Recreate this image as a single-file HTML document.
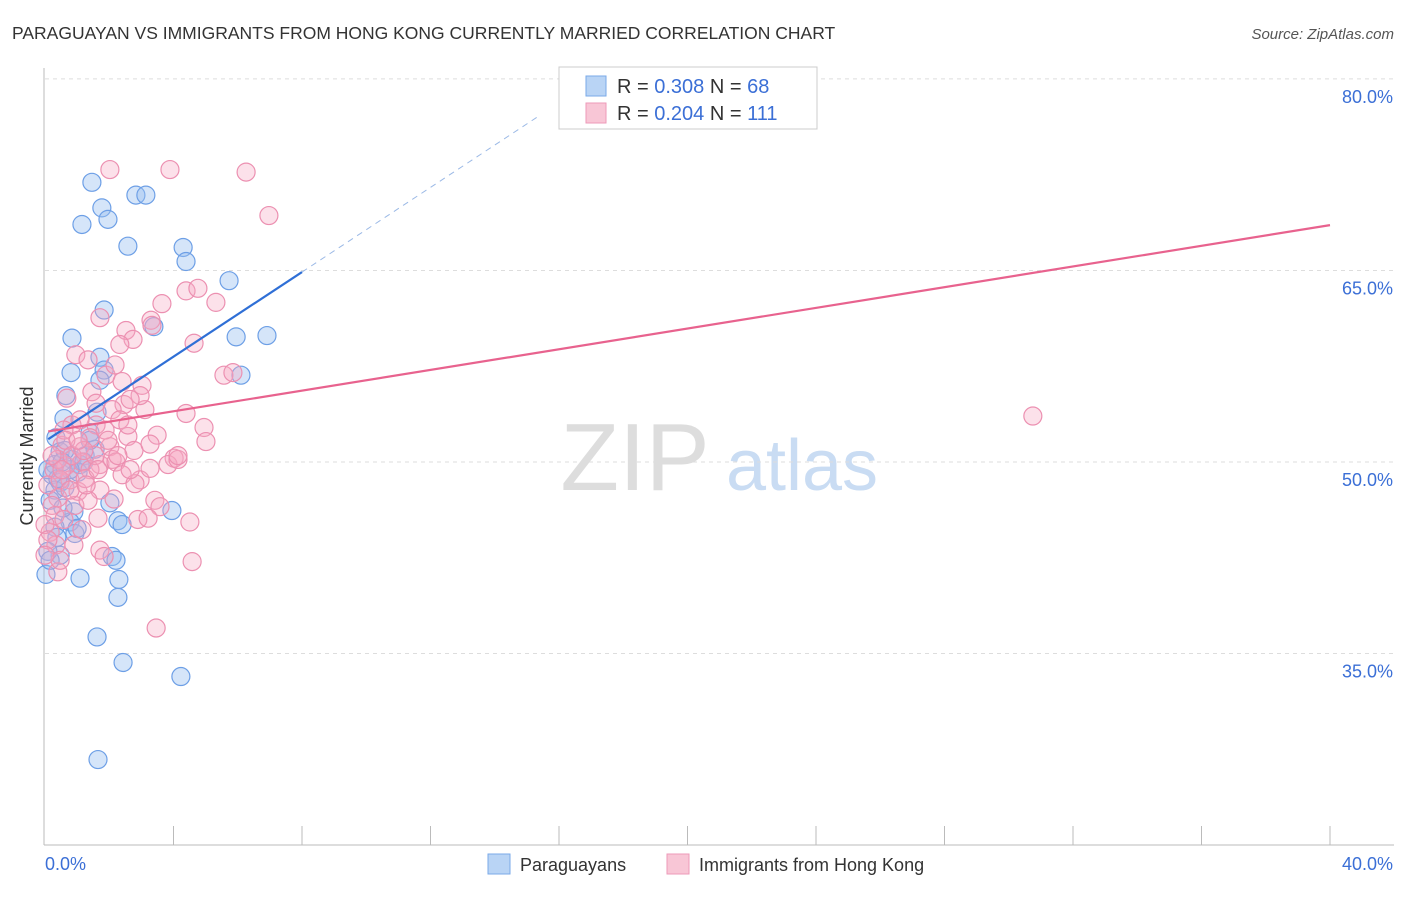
<!DOCTYPE html>
<html><head><meta charset="utf-8"><style>
body{margin:0;background:#fff;font-family:"Liberation Sans",sans-serif}
svg text{font-family:"Liberation Sans",sans-serif}
</style></head><body>
<svg id="c" width="1406" height="892" viewBox="0 0 1406 892">
<text x="12" y="39" font-size="17.5" fill="#333">PARAGUAYAN VS IMMIGRANTS FROM HONG KONG CURRENTLY MARRIED CORRELATION CHART</text>
<text x="1394" y="39" font-size="15" fill="#555" text-anchor="end" font-style="italic">Source: ZipAtlas.com</text>
<text x="33" y="456" font-size="18" fill="#333" text-anchor="middle" transform="rotate(-90 33 456)">Currently Married</text>
<g><text x="635" y="490" font-size="96" fill="#ddd" text-anchor="middle" font-family="Liberation Serif,serif">ZIP</text><text x="802" y="490" font-size="72" fill="#c9dcf3" text-anchor="middle">atlas</text></g>
<g id="grid"></g><g id="axes"></g><g id="pts"></g><g id="lines"></g>
<g>
<rect x="559" y="67" width="258" height="62" fill="#fff" stroke="#ccc"/>
<rect x="586" y="76" width="20" height="20" fill="#b9d4f5" stroke="#7aaae8"/>
<rect x="586" y="103" width="20" height="20" fill="#f8c6d6" stroke="#ee9ab8"/>
<text x="617" y="93" font-size="20" fill="#333">R = <tspan fill="#3b6fd6">0.308</tspan>   N = <tspan fill="#3b6fd6">68</tspan></text>
<text x="617" y="120" font-size="20" fill="#333">R = <tspan fill="#3b6fd6">0.204</tspan>   N = <tspan fill="#3b6fd6">111</tspan></text>
</g>
<g>
<rect x="488" y="854" width="22" height="20" fill="#b9d4f5" stroke="#7aaae8"/>
<text x="520" y="871" font-size="18" fill="#333">Paraguayans</text>
<rect x="667" y="854" width="22" height="20" fill="#f8c6d6" stroke="#ee9ab8"/>
<text x="699" y="871" font-size="18" fill="#333">Immigrants from Hong Kong</text>
</g>
<text x="45" y="870" font-size="18" fill="#3b6fd6">0.0%</text>
<text x="1393" y="870" font-size="18" fill="#3b6fd6" text-anchor="end">40.0%</text>
</svg>
<script>
const yTicks=[80,65,50,35];
const yTickLabels=["80.0%","65.0%","50.0%","35.0%"];
const blueX=[1.46,2.83,3.14,1.77,1.96,1.15,2.58,4.30,4.39,5.73,1.84,0.84,3.39,5.95,6.91,1.71,0.81,1.84,6.10,0.65,1.62,0.59,0.34,1.40,1.25,0.47,0.84,0.31,1.09,0.22,0.47,0.31,0.62,1.03,2.02,0.90,3.95,0.78,2.27,2.40,0.31,0.93,0.37,0.47,0.09,2.09,2.21,1.09,2.30,2.27,0.03,1.62,2.43,4.23,1.65,0.16,1.21,1.56,0.78,0.56,0.62,1.40,0.53,0.16,1.00,0.40,0.09,1.71];
const blueY=[71.9,70.9,70.9,69.9,69.0,68.6,66.9,66.8,65.7,64.2,61.9,59.7,60.6,59.8,59.9,58.2,57.0,57.2,56.8,55.2,53.9,53.4,51.9,52.3,50.5,50.8,50.2,49.8,49.8,49.0,48.4,47.8,48.0,49.2,46.8,46.1,46.2,45.3,45.4,45.1,44.9,44.4,44.1,42.7,43.0,42.6,42.3,40.9,40.8,39.4,41.2,36.3,34.3,33.2,26.7,47.0,50.0,51.0,49.4,46.4,50.9,51.7,50.0,42.3,44.8,48.7,49.4,56.4];
const pinkX=[2.02,3.89,6.26,6.97,4.39,4.76,5.32,3.64,1.71,3.30,2.52,2.74,3.33,4.64,0.96,1.34,2.33,1.90,2.40,3.02,1.46,0.68,2.46,2.09,4.39,0.84,1.59,2.33,3.11,4.95,1.40,2.58,5.01,3.49,0.53,1.09,2.02,2.77,3.27,4.02,3.83,4.14,1.15,1.71,2.09,2.21,0.65,0.28,0.40,0.09,2.40,2.96,2.80,1.71,1.03,0.40,3.42,3.58,1.65,2.89,3.21,4.51,0.16,1.15,0.34,0.90,1.71,1.84,4.58,0.40,3.46,30.75,5.57,5.85,0.78,1.40,1.87,0.47,0.22,0.59,1.09,1.56,2.65,0.93,1.34,0.31,0.00,0.47,0.09,0.65,0.78,1.25,2.96,2.18,2.65,4.14,2.15,3.27,0.22,0.53,0.84,1.21,1.65,1.96,2.27,2.58,1.59,1.28,0.59,1.03,0.00];
const pinkY=[72.9,72.9,72.7,69.3,63.4,63.6,62.5,62.4,61.3,61.1,60.3,59.6,60.7,59.3,58.4,58.0,59.2,56.8,56.3,56.0,55.5,55.0,54.5,54.1,53.8,52.9,52.9,53.3,54.1,52.7,51.9,52.0,51.6,52.1,51.3,51.2,51.2,50.9,51.4,50.3,49.8,50.2,50.0,49.8,50.2,50.0,49.7,49.4,50.2,48.2,49.0,48.6,48.3,47.8,47.7,47.2,47.0,46.5,45.6,45.5,45.6,45.3,44.5,44.7,43.5,43.5,43.1,42.6,42.2,41.4,37.0,53.6,56.8,57.0,48.6,49.4,52.5,48.6,46.6,52.5,53.3,50.5,49.4,46.6,47.0,45.8,45.1,42.3,43.9,51.7,47.8,48.7,55.2,57.6,54.9,50.5,47.1,49.5,50.5,49.4,50.5,50.9,49.4,51.7,50.5,52.9,54.6,48.2,45.5,51.7,42.7];
const blueFit=[51.62,1.657]; // intercept, slope
const pinkFit=[52.35,0.405];
const X=v=>45+v/40*1285, Y=v=>462-(v-50)*12.77;
const NS="http://www.w3.org/2000/svg";
function mk(t,a,p){const e=document.createElementNS(NS,t);for(const k in a)e.setAttribute(k,a[k]);p.appendChild(e);return e;}
const grid=document.getElementById('grid'),axes=document.getElementById('axes'),pts=document.getElementById('pts'),lines=document.getElementById('lines');
yTicks.forEach((t,i)=>{
 const g=mk('line',{x1:45,x2:1394,y1:Y(t),y2:Y(t),stroke:'#ddd','stroke-dasharray':'4 4'},grid);
 
 
 const l=mk('text',{x:1393,y:Y(t)+24,'font-size':18,fill:'#3b6fd6','text-anchor':'end'},grid);
 l.textContent=yTickLabels[i];
 
 
});
mk('line',{x1:44,x2:44,y1:68,y2:845,stroke:'#bbb'},axes);
mk('line',{x1:44,x2:1394,y1:845,y2:845,stroke:'#bbb'},axes);
for(let i=1;i<=10;i++){const t=mk('line',{x1:X(i*4),x2:X(i*4),y1:826,y2:845,stroke:'#bbb'},axes);
 
 }
blueX.forEach((x,i)=>{const c=mk('circle',{cx:X(x),cy:Y(blueY[i]),r:9,fill:'rgba(150,190,240,0.4)',stroke:'#6d9fe6','stroke-width':1.2},pts);
 
 });
pinkX.forEach((x,i)=>{const c=mk('circle',{cx:X(x),cy:Y(pinkY[i]),r:9,fill:'rgba(245,170,195,0.35)',stroke:'#ec90b1','stroke-width':1.2},pts);
 
 });
const bf=v=>blueFit[0]+blueFit[1]*v, pf=v=>pinkFit[0]+pinkFit[1]*v;
const b1=mk('line',{x1:X(0.1),y1:Y(bf(0.1)),x2:X(8),y2:Y(bf(8)),stroke:'#2f6fd6','stroke-width':2.2},lines);


const b2=mk('line',{x1:X(8),y1:Y(bf(8)),x2:X(15.4),y2:Y(bf(15.4)),stroke:'#9bb9e6','stroke-width':1,'stroke-dasharray':'6 5'},lines);


const p1=mk('line',{x1:X(0.1),y1:Y(pf(0.1)),x2:X(40),y2:Y(pf(40)),stroke:'#e8628e','stroke-width':2.2},lines);


</script>
</body></html>
